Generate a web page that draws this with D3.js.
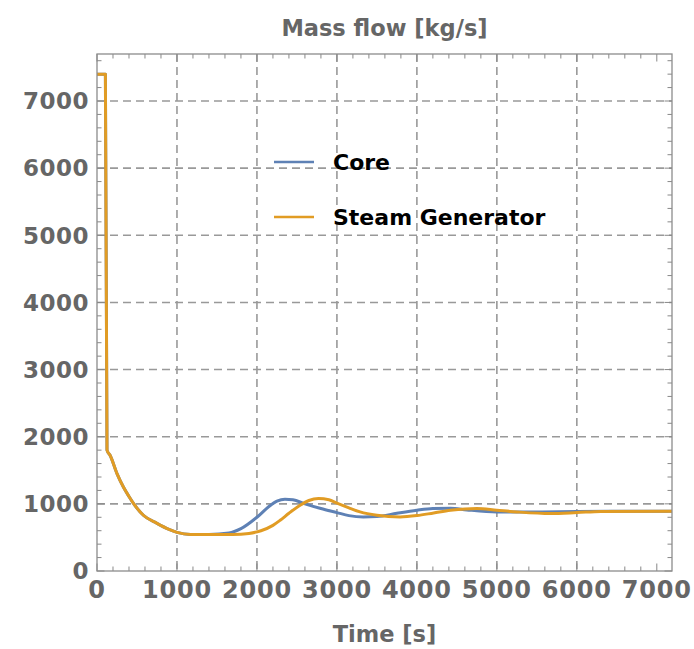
<!DOCTYPE html>
<html lang="en">
<head>
    <meta charset="UTF-8">
    <style>
        body { margin: 0; background: #fff; }
        text { font-family: "DejaVu Sans", sans-serif; font-weight: bold; }
        .tick-label { fill: #666; }
        .axis-title { fill: #666; font-size: 22.5px; }
        .legend-label { fill: #000; font-size: 22px; }
    </style>
    <script src="https://d3js.org/d3.v7.min.js"></script>
</head>
<body>
    <div id="chart"></div>

    <script>
        // values
        var coreTime = [0, 105, 125, 165, 250, 330, 400, 460, 580, 750, 900, 1000, 1170, 1400, 1650, 1800, 2000, 2150, 2250, 2350, 2450, 2600, 2800, 3000, 3150, 3330, 3500, 3750, 4000, 4200, 4420, 4625, 5000, 5500, 6000, 6500, 7190];
        var coreFlow = [7400, 7400, 1800, 1720, 1450, 1250, 1110, 1000, 830, 710, 620, 575, 545, 545, 565, 630, 800, 960, 1040, 1070, 1060, 1000, 930, 870, 825, 805, 810, 860, 905, 930, 935, 910, 880, 880, 885, 890, 890];

        var sgTime = [0, 105, 125, 165, 250, 330, 400, 460, 580, 750, 900, 1000, 1170, 1400, 1700, 1900, 2050, 2200, 2290, 2400, 2540, 2650, 2770, 2900, 3000, 3150, 3290, 3500, 3790, 4000, 4210, 4420, 4600, 4750, 5000, 5250, 5670, 6000, 6300, 7190];
        var sgFlow = [7400, 7400, 1800, 1720, 1450, 1250, 1110, 1000, 830, 710, 620, 575, 545, 545, 545, 560, 600, 680, 755, 860, 980, 1050, 1078, 1060, 1010, 940, 880, 830, 805, 825, 865, 905, 925, 930, 905, 880, 855, 870, 888, 890];

        var xTicks = [0, 1000, 2000, 3000, 4000, 5000, 6000, 7000];
        var yTicks = [0, 1000, 2000, 3000, 4000, 5000, 6000, 7000];
        var xGrid = [1000, 2000, 3000, 4000, 5000, 6000];
        var yGrid = [1000, 2000, 3000, 4000, 5000, 6000, 7000];

        var seriesNames = ["Core", "Steam Generator"];
        var seriesColors = ["#5e81b5", "#e19c24"];

        var margin = { top: 54, right: 22, bottom: 78, left: 97 },
            width = 694 - margin.left - margin.right,
            height = 649 - margin.top - margin.bottom;

        var svg = d3.select("#chart")
            .append("svg")
            .attr("width", 694)
            .attr("height", 649)
            .append("g")
            .attr("transform", "translate(" + margin.left + "," + margin.top + ")");

        var x = d3.scaleLinear().domain([0, 7190]).range([0, width]);
        var y = d3.scaleLinear().domain([0, 7700]).range([height, 0]);

        var minorX = d3.range(0, 7190, 200);
        var minorY = d3.range(0, 7700, 200);

        // grid
        svg.selectAll(".gx").data(xGrid).enter().append("line")
            .attr("x1", function (d) { return x(d); }).attr("x2", function (d) { return x(d); })
            .attr("y1", 0).attr("y2", height)
            .attr("stroke", "#999").attr("stroke-width", 1.6).attr("stroke-dasharray", "8,5");
        svg.selectAll(".gy").data(yGrid).enter().append("line")
            .attr("y1", function (d) { return y(d); }).attr("y2", function (d) { return y(d); })
            .attr("x1", 0).attr("x2", width)
            .attr("stroke", "#999").attr("stroke-width", 1.6).attr("stroke-dasharray", "8,5");

        // frame ticks (inward, all four sides)
        function tickLen(d) { return d % 1000 === 0 ? 7.5 : 4.5; }
        var ticks = svg.append("g").attr("stroke", "#888").attr("stroke-width", 1);
        ticks.selectAll(".tb").data(minorX).enter().append("line")
            .attr("x1", function (d) { return x(d); }).attr("x2", function (d) { return x(d); })
            .attr("y1", height).attr("y2", function (d) { return height - tickLen(d); });
        ticks.selectAll(".tt").data(minorX).enter().append("line")
            .attr("x1", function (d) { return x(d); }).attr("x2", function (d) { return x(d); })
            .attr("y1", 0).attr("y2", function (d) { return tickLen(d); });
        ticks.selectAll(".tl").data(minorY).enter().append("line")
            .attr("y1", function (d) { return y(d); }).attr("y2", function (d) { return y(d); })
            .attr("x1", 0).attr("x2", function (d) { return tickLen(d); });
        ticks.selectAll(".tr").data(minorY).enter().append("line")
            .attr("y1", function (d) { return y(d); }).attr("y2", function (d) { return y(d); })
            .attr("x1", width).attr("x2", function (d) { return width - tickLen(d); });

        // lines
        var line = d3.line()
            .x(function (d) { return x(d[0]); })
            .y(function (d) { return y(d[1]); })
            .curve(d3.curveMonotoneX);

        var series = [d3.zip(coreTime, coreFlow), d3.zip(sgTime, sgFlow)];
        svg.selectAll(".series").data(series).enter().append("path")
            .attr("d", line)
            .attr("fill", "none")
            .attr("stroke", function (d, i) { return seriesColors[i]; })
            .attr("stroke-width", 3)
            .attr("stroke-linejoin", "round");

        // frame
        svg.append("rect")
            .attr("width", width).attr("height", height)
            .attr("fill", "none").attr("stroke", "#8c8c8c").attr("stroke-width", 1.3);

        // tick labels
        svg.selectAll(".xl").data(xTicks).enter().append("text")
            .attr("class", "tick-label")
            .attr("x", function (d) { return x(d); })
            .attr("y", height + 27)
            .attr("text-anchor", "middle")
            .style("font-size", "24px")
            .style("letter-spacing", "0.8px")
            .text(function (d) { return d; });

        svg.selectAll(".yl").data(yTicks).enter().append("text")
            .attr("class", "tick-label")
            .attr("x", -8)
            .attr("y", function (d) { return y(d); })
            .attr("dy", "0.36em")
            .attr("text-anchor", "end")
            .style("font-size", "23px")
            .style("letter-spacing", "0.5px")
            .text(function (d) { return d; });

        // titles
        svg.append("text").attr("class", "axis-title")
            .attr("x", width / 2).attr("y", -18)
            .attr("text-anchor", "middle")
            .text("Mass flow [kg/s]");
        svg.append("text").attr("class", "axis-title")
            .attr("x", width / 2).attr("y", height + 71)
            .attr("text-anchor", "middle")
            .text("Time [s]");

        // legend
        var legend = svg.selectAll(".legend").data(seriesNames).enter().append("g")
            .attr("transform", function (d, i) { return "translate(" + (274 - margin.left) + "," + (162 + i * 55 - margin.top) + ")"; });
        legend.append("line")
            .attr("x1", 0).attr("x2", 40)
            .attr("stroke", function (d, i) { return seriesColors[i]; })
            .attr("stroke-width", 2.5);
        legend.append("text").attr("class", "legend-label")
            .attr("x", 59).attr("dy", "0.36em")
            .text(function (d) { return d; });
    </script>
</body>
</html>
